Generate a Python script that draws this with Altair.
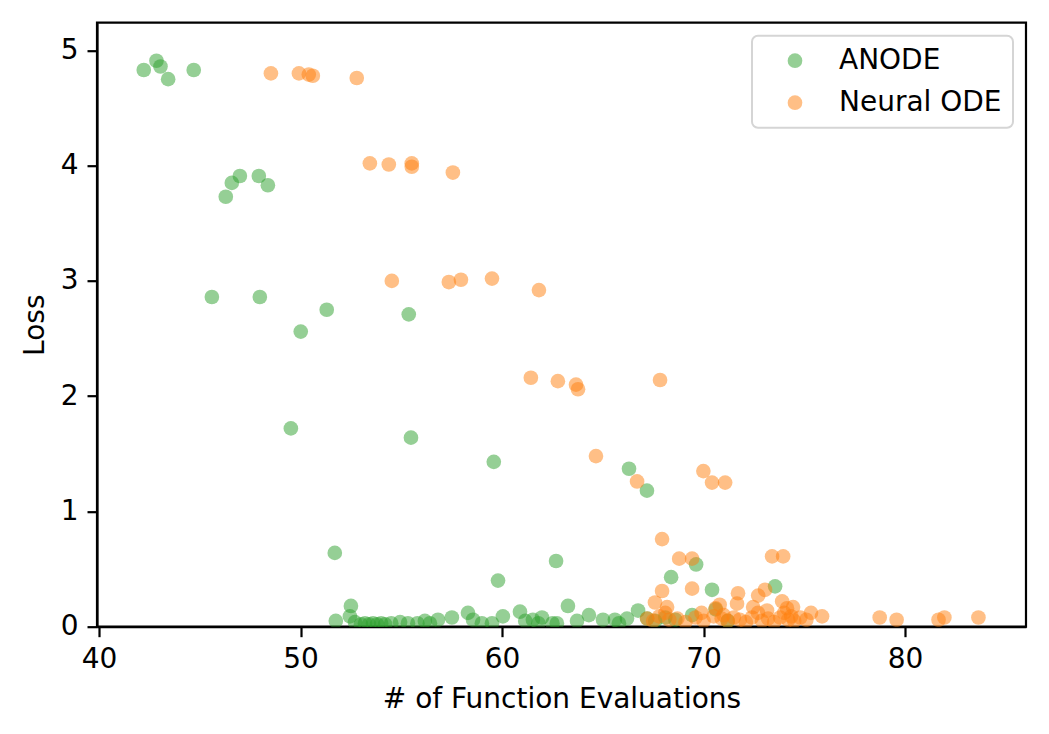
import altair as alt
import pandas as pd

# ANODE (green) points
anode_x = [
    42.22, 42.85, 43.05, 43.43, 44.70,
    46.29, 46.59, 46.99, 47.93, 48.38,
    45.60, 47.98, 50.01, 51.30, 55.37,
    49.52, 55.48, 59.59, 66.30, 67.19,
    51.70, 62.68, 59.80, 68.39, 69.63, 70.42, 73.55,
    52.50, 63.27,
    51.75, 52.45, 52.70, 53.00, 53.20, 53.40, 53.60, 53.80, 54.00, 54.20, 54.50,
    54.94, 55.33, 55.80, 56.17, 56.42, 56.82, 57.51, 58.31, 58.56, 59.00, 59.50,
    60.04, 60.89, 61.15, 61.53, 61.80, 61.98, 62.50, 62.72, 63.72, 64.31, 65.01,
    65.60, 65.80, 66.20, 66.75, 67.20, 67.60, 68.10, 68.60, 69.43, 70.60, 71.20,
]
anode_y = [
    4.83, 4.91, 4.86, 4.75, 4.83,
    3.73, 3.85, 3.91, 3.91, 3.83,
    2.86, 2.86, 2.56, 2.75, 2.71,
    1.72, 1.64, 1.43, 1.37, 1.18,
    0.64, 0.57, 0.40, 0.43, 0.54, 0.32, 0.35,
    0.18, 0.18,
    0.05, 0.09, 0.04, 0.02, 0.03, 0.02, 0.03, 0.02, 0.03, 0.02, 0.03,
    0.04, 0.03, 0.03, 0.05, 0.03, 0.06, 0.08, 0.12, 0.06, 0.03, 0.03,
    0.09, 0.13, 0.05, 0.06, 0.03, 0.08, 0.03, 0.03, 0.05, 0.10, 0.06,
    0.06, 0.03, 0.07, 0.14, 0.07, 0.05, 0.08, 0.06, 0.10, 0.15, 0.05,
]

# Neural ODE (orange) points
node_x = [
    48.53, 49.92, 50.41, 50.61, 52.79,
    53.44, 54.38, 55.52, 55.52, 57.56,
    54.53, 57.36, 57.96, 59.50, 61.83,
    61.43, 62.77, 63.67, 63.77, 67.84,
    64.66, 69.99, 66.70, 70.42, 71.07,
    67.94, 68.79, 69.43, 73.40, 73.95,
    67.94, 69.43, 71.71, 72.71, 73.05,
    67.59, 73.90, 68.19, 70.80, 71.66, 74.44, 75.33, 75.88,
    72.46, 73.15, 74.14,
    78.74, 79.58, 81.66, 81.95, 83.64,
    67.20, 67.50, 67.80, 68.10, 68.30, 68.70, 69.10, 69.60, 70.00, 70.50,
    70.60, 70.90, 71.20, 71.50, 71.80, 72.10, 72.40, 72.70, 72.90, 73.20,
    73.50, 73.80, 74.00, 74.20, 74.50, 74.80, 75.10, 74.35, 71.00, 69.90,
]
node_y = [
    4.80, 4.80, 4.79, 4.78, 4.76,
    4.02, 4.01, 4.02, 3.99, 3.94,
    3.00, 2.99, 3.01, 3.02, 2.92,
    2.16, 2.13, 2.10, 2.06, 2.14,
    1.48, 1.35, 1.26, 1.25, 1.25,
    0.76, 0.59, 0.59, 0.61, 0.61,
    0.31, 0.33, 0.29, 0.27, 0.32,
    0.21, 0.22, 0.17, 0.19, 0.20, 0.17, 0.12, 0.09,
    0.17, 0.14, 0.16,
    0.08, 0.06, 0.06, 0.08, 0.08,
    0.07, 0.05, 0.09, 0.12, 0.06, 0.07, 0.04, 0.08, 0.05, 0.09,
    0.16, 0.07, 0.05, 0.08, 0.06, 0.04, 0.08, 0.12, 0.05, 0.07,
    0.04, 0.08, 0.12, 0.06, 0.05, 0.08, 0.06, 0.09, 0.10, 0.12,
]

series_names = ["ANODE", "Neural ODE"]
series_colors = ["#2ca02c", "#ff7f0e"]
x_ticks = [40, 50, 60, 70, 80]
y_ticks = [0, 1, 2, 3, 4, 5]

df = pd.concat([
    pd.DataFrame({"nfe": anode_x, "loss": anode_y, "model": series_names[0]}),
    pd.DataFrame({"nfe": node_x, "loss": node_y, "model": series_names[1]}),
], ignore_index=True)
df["order"] = range(len(df))

FONT = "DejaVu Sans"
FS = 28

chart = alt.Chart(df).mark_circle(size=215, opacity=0.5, clip=True, strokeWidth=0).encode(
    x=alt.X("nfe:Q", title="# of Function Evaluations",
            scale=alt.Scale(domain=[39.9, 86.0], nice=False, zero=False),
            axis=alt.Axis(values=x_ticks, format="d", titleY=81, titleBaseline="alphabetic")),
    y=alt.Y("loss:Q", title="Loss",
            scale=alt.Scale(domain=[0, 5.24], nice=False),
            axis=alt.Axis(values=y_ticks, format="d", titleX=-54, titleBaseline="alphabetic")),
    color=alt.Color("model:N", title=None,
                    scale=alt.Scale(domain=series_names, range=series_colors),
                    legend=alt.Legend(orient="top-right", offset=13)),
    order=alt.Order("order:Q"),
).properties(
    width=929, height=604,
    autosize=alt.AutoSizeParams(type="none"),
    padding={"left": 89, "top": 14.7, "right": 15, "bottom": 90},
).configure_view(
    stroke="black", strokeWidth=2.2
).configure_axis(
    grid=False, domainColor="black", domainWidth=2.2,
    tickColor="black", tickWidth=2.2, tickSize=10,
    labelFont=FONT, labelFontSize=FS, labelColor="black", labelPadding=9,
    titleFont=FONT, titleFontSize=FS, titleColor="black", titleFontWeight="normal",
    labelFlush=False,
).configure_legend(
    labelFont=FONT, labelFontSize=FS, labelColor="black", labelLimit=400,
    strokeColor="#d5d5d5", strokeWidth=2, fillColor="white", cornerRadius=6,
    padding=11, symbolOffset=18, labelOffset=30, rowPadding=14,
    symbolType="circle", symbolSize=215, symbolOpacity=0.5, symbolStrokeWidth=0,
)

chart.save("out.html", embed_options={"renderer": "svg", "actions": False})
